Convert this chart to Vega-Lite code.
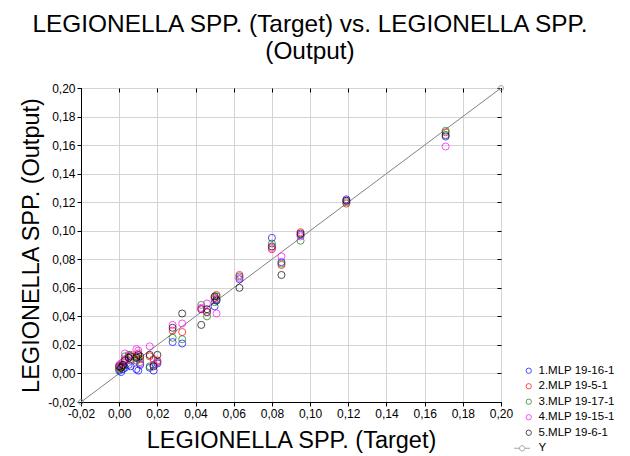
{
  "$schema": "https://vega.github.io/schema/vega-lite/v6.json",
  "autosize": "none",
  "width": 420,
  "height": 314,
  "padding": {"left": 81, "top": 88, "right": 129, "bottom": 54},
  "background": "white",
  "config": {
    "font": "Liberation Sans",
    "view": {"stroke": "black", "strokeWidth": 1},
    "axis": {"gridColor": "#d4d4d4", "gridWidth": 1, "domainColor": "black", "tickColor": "black", "labelColor": "black", "titleColor": "black", "labelFont": "Liberation Sans", "titleFont": "Liberation Sans", "titleFontWeight": "normal", "labelFontSize": 12, "titleFontSize": 23.5, "labelOverlap": false, "labelFlush": false}
  },
  "title": {"text": ["LEGIONELLA SPP. (Target) vs. LEGIONELLA SPP.", "(Output)"], "fontSize": 24.4, "fontWeight": "normal", "font": "Liberation Sans", "color": "black", "anchor": "middle", "dx": 19, "lineHeight": 27, "offset": 18},
  "datasets": {
    "pts": [
      {"target": 0.000, "output": 0.002, "model": "1.MLP 19-16-1"},
      {"target": 0.001, "output": 0.001, "model": "1.MLP 19-16-1"},
      {"target": 0.002, "output": 0.003, "model": "1.MLP 19-16-1"},
      {"target": 0.003, "output": 0.004, "model": "1.MLP 19-16-1"},
      {"target": 0.005, "output": 0.006, "model": "1.MLP 19-16-1"},
      {"target": 0.006, "output": 0.005, "model": "1.MLP 19-16-1"},
      {"target": 0.009, "output": 0.003, "model": "1.MLP 19-16-1"},
      {"target": 0.010, "output": 0.002, "model": "1.MLP 19-16-1"},
      {"target": 0.011, "output": 0.006, "model": "1.MLP 19-16-1"},
      {"target": 0.016, "output": 0.004, "model": "1.MLP 19-16-1"},
      {"target": 0.018, "output": 0.002, "model": "1.MLP 19-16-1"},
      {"target": 0.020, "output": 0.007, "model": "1.MLP 19-16-1"},
      {"target": 0.028, "output": 0.022, "model": "1.MLP 19-16-1"},
      {"target": 0.033, "output": 0.021, "model": "1.MLP 19-16-1"},
      {"target": 0.043, "output": 0.045, "model": "1.MLP 19-16-1"},
      {"target": 0.046, "output": 0.043, "model": "1.MLP 19-16-1"},
      {"target": 0.050, "output": 0.047, "model": "1.MLP 19-16-1"},
      {"target": 0.051, "output": 0.052, "model": "1.MLP 19-16-1"},
      {"target": 0.063, "output": 0.066, "model": "1.MLP 19-16-1"},
      {"target": 0.080, "output": 0.095, "model": "1.MLP 19-16-1"},
      {"target": 0.085, "output": 0.078, "model": "1.MLP 19-16-1"},
      {"target": 0.095, "output": 0.097, "model": "1.MLP 19-16-1"},
      {"target": 0.119, "output": 0.122, "model": "1.MLP 19-16-1"},
      {"target": 0.171, "output": 0.166, "model": "1.MLP 19-16-1"},

      {"target": 0.000, "output": 0.004, "model": "2.MLP 19-5-1"},
      {"target": 0.001, "output": 0.005, "model": "2.MLP 19-5-1"},
      {"target": 0.002, "output": 0.006, "model": "2.MLP 19-5-1"},
      {"target": 0.003, "output": 0.010, "model": "2.MLP 19-5-1"},
      {"target": 0.005, "output": 0.011, "model": "2.MLP 19-5-1"},
      {"target": 0.006, "output": 0.013, "model": "2.MLP 19-5-1"},
      {"target": 0.009, "output": 0.012, "model": "2.MLP 19-5-1"},
      {"target": 0.010, "output": 0.014, "model": "2.MLP 19-5-1"},
      {"target": 0.011, "output": 0.010, "model": "2.MLP 19-5-1"},
      {"target": 0.016, "output": 0.012, "model": "2.MLP 19-5-1"},
      {"target": 0.018, "output": 0.010, "model": "2.MLP 19-5-1"},
      {"target": 0.020, "output": 0.009, "model": "2.MLP 19-5-1"},
      {"target": 0.028, "output": 0.030, "model": "2.MLP 19-5-1"},
      {"target": 0.033, "output": 0.029, "model": "2.MLP 19-5-1"},
      {"target": 0.043, "output": 0.045, "model": "2.MLP 19-5-1"},
      {"target": 0.046, "output": 0.043, "model": "2.MLP 19-5-1"},
      {"target": 0.050, "output": 0.053, "model": "2.MLP 19-5-1"},
      {"target": 0.051, "output": 0.055, "model": "2.MLP 19-5-1"},
      {"target": 0.063, "output": 0.069, "model": "2.MLP 19-5-1"},
      {"target": 0.080, "output": 0.087, "model": "2.MLP 19-5-1"},
      {"target": 0.085, "output": 0.076, "model": "2.MLP 19-5-1"},
      {"target": 0.095, "output": 0.099, "model": "2.MLP 19-5-1"},
      {"target": 0.119, "output": 0.119, "model": "2.MLP 19-5-1"},
      {"target": 0.171, "output": 0.169, "model": "2.MLP 19-5-1"},

      {"target": 0.000, "output": 0.003, "model": "3.MLP 19-17-1"},
      {"target": 0.001, "output": 0.004, "model": "3.MLP 19-17-1"},
      {"target": 0.002, "output": 0.005, "model": "3.MLP 19-17-1"},
      {"target": 0.003, "output": 0.012, "model": "3.MLP 19-17-1"},
      {"target": 0.005, "output": 0.013, "model": "3.MLP 19-17-1"},
      {"target": 0.006, "output": 0.010, "model": "3.MLP 19-17-1"},
      {"target": 0.009, "output": 0.009, "model": "3.MLP 19-17-1"},
      {"target": 0.010, "output": 0.011, "model": "3.MLP 19-17-1"},
      {"target": 0.011, "output": 0.008, "model": "3.MLP 19-17-1"},
      {"target": 0.016, "output": 0.005, "model": "3.MLP 19-17-1"},
      {"target": 0.018, "output": 0.006, "model": "3.MLP 19-17-1"},
      {"target": 0.020, "output": 0.008, "model": "3.MLP 19-17-1"},
      {"target": 0.028, "output": 0.025, "model": "3.MLP 19-17-1"},
      {"target": 0.033, "output": 0.024, "model": "3.MLP 19-17-1"},
      {"target": 0.043, "output": 0.048, "model": "3.MLP 19-17-1"},
      {"target": 0.046, "output": 0.040, "model": "3.MLP 19-17-1"},
      {"target": 0.050, "output": 0.050, "model": "3.MLP 19-17-1"},
      {"target": 0.051, "output": 0.054, "model": "3.MLP 19-17-1"},
      {"target": 0.063, "output": 0.068, "model": "3.MLP 19-17-1"},
      {"target": 0.080, "output": 0.091, "model": "3.MLP 19-17-1"},
      {"target": 0.085, "output": 0.077, "model": "3.MLP 19-17-1"},
      {"target": 0.095, "output": 0.093, "model": "3.MLP 19-17-1"},
      {"target": 0.119, "output": 0.120, "model": "3.MLP 19-17-1"},
      {"target": 0.171, "output": 0.170, "model": "3.MLP 19-17-1"},

      {"target": 0.000, "output": 0.006, "model": "4.MLP 19-15-1"},
      {"target": 0.001, "output": 0.007, "model": "4.MLP 19-15-1"},
      {"target": 0.002, "output": 0.008, "model": "4.MLP 19-15-1"},
      {"target": 0.003, "output": 0.014, "model": "4.MLP 19-15-1"},
      {"target": 0.005, "output": 0.012, "model": "4.MLP 19-15-1"},
      {"target": 0.006, "output": 0.009, "model": "4.MLP 19-15-1"},
      {"target": 0.009, "output": 0.017, "model": "4.MLP 19-15-1"},
      {"target": 0.010, "output": 0.016, "model": "4.MLP 19-15-1"},
      {"target": 0.011, "output": 0.007, "model": "4.MLP 19-15-1"},
      {"target": 0.016, "output": 0.019, "model": "4.MLP 19-15-1"},
      {"target": 0.018, "output": 0.006, "model": "4.MLP 19-15-1"},
      {"target": 0.020, "output": 0.008, "model": "4.MLP 19-15-1"},
      {"target": 0.028, "output": 0.034, "model": "4.MLP 19-15-1"},
      {"target": 0.033, "output": 0.035, "model": "4.MLP 19-15-1"},
      {"target": 0.043, "output": 0.046, "model": "4.MLP 19-15-1"},
      {"target": 0.046, "output": 0.049, "model": "4.MLP 19-15-1"},
      {"target": 0.050, "output": 0.052, "model": "4.MLP 19-15-1"},
      {"target": 0.051, "output": 0.042, "model": "4.MLP 19-15-1"},
      {"target": 0.063, "output": 0.067, "model": "4.MLP 19-15-1"},
      {"target": 0.080, "output": 0.088, "model": "4.MLP 19-15-1"},
      {"target": 0.085, "output": 0.082, "model": "4.MLP 19-15-1"},
      {"target": 0.095, "output": 0.096, "model": "4.MLP 19-15-1"},
      {"target": 0.119, "output": 0.121, "model": "4.MLP 19-15-1"},
      {"target": 0.171, "output": 0.159, "model": "4.MLP 19-15-1"},

      {"target": 0.000, "output": 0.005, "model": "5.MLP 19-6-1"},
      {"target": 0.001, "output": 0.004, "model": "5.MLP 19-6-1"},
      {"target": 0.002, "output": 0.006, "model": "5.MLP 19-6-1"},
      {"target": 0.003, "output": 0.009, "model": "5.MLP 19-6-1"},
      {"target": 0.005, "output": 0.011, "model": "5.MLP 19-6-1"},
      {"target": 0.006, "output": 0.012, "model": "5.MLP 19-6-1"},
      {"target": 0.009, "output": 0.011, "model": "5.MLP 19-6-1"},
      {"target": 0.010, "output": 0.013, "model": "5.MLP 19-6-1"},
      {"target": 0.011, "output": 0.012, "model": "5.MLP 19-6-1"},
      {"target": 0.016, "output": 0.013, "model": "5.MLP 19-6-1"},
      {"target": 0.018, "output": 0.005, "model": "5.MLP 19-6-1"},
      {"target": 0.020, "output": 0.013, "model": "5.MLP 19-6-1"},
      {"target": 0.028, "output": 0.032, "model": "5.MLP 19-6-1"},
      {"target": 0.033, "output": 0.042, "model": "5.MLP 19-6-1"},
      {"target": 0.043, "output": 0.034, "model": "5.MLP 19-6-1"},
      {"target": 0.046, "output": 0.045, "model": "5.MLP 19-6-1"},
      {"target": 0.050, "output": 0.054, "model": "5.MLP 19-6-1"},
      {"target": 0.051, "output": 0.051, "model": "5.MLP 19-6-1"},
      {"target": 0.063, "output": 0.060, "model": "5.MLP 19-6-1"},
      {"target": 0.080, "output": 0.089, "model": "5.MLP 19-6-1"},
      {"target": 0.085, "output": 0.069, "model": "5.MLP 19-6-1"},
      {"target": 0.095, "output": 0.098, "model": "5.MLP 19-6-1"},
      {"target": 0.119, "output": 0.121, "model": "5.MLP 19-6-1"},
      {"target": 0.171, "output": 0.167, "model": "5.MLP 19-6-1"}
    ],
    "yline": [
      {"target": -0.02, "output": -0.02},
      {"target": 0.2, "output": 0.2}
    ]
  },
  "resolve": {"axis": {"x": "independent", "y": "independent"}},
  "layer": [
    {
      "data": {"name": "yline"},
      "mark": {"type": "line", "color": "#808080", "strokeWidth": 1, "clip": false},
      "encoding": {
        "x": {"field": "target", "type": "quantitative", "scale": {"domain": [-0.02, 0.2], "nice": false, "zero": false},
          "axis": {"orient": "bottom", "title": "LEGIONELLA SPP. (Target)", "values": [-0.02, 0, 0.02, 0.04, 0.06, 0.08, 0.1, 0.12, 0.14, 0.16, 0.18, 0.2], "labelExpr": "replace(replace(format(datum.value, '.2f'), '.', ','), '\u2212', '-')", "tickSize": 4, "labelPadding": 2, "titlePadding": 9}},
        "y": {"field": "output", "type": "quantitative", "scale": {"domain": [-0.02, 0.2], "nice": false, "zero": false},
          "axis": {"orient": "left", "title": "LEGIONELLA SPP. (Output)", "values": [-0.02, 0, 0.02, 0.04, 0.06, 0.08, 0.1, 0.12, 0.14, 0.16, 0.18, 0.2], "labelExpr": "replace(replace(format(datum.value, '.2f'), '.', ','), '\u2212', '-')", "tickSize": 4, "labelPadding": 2, "titlePadding": 4}}
      }
    },
    {
      "data": {"name": "yline"},
      "mark": {"type": "point", "shape": "circle", "filled": false, "color": "#808080", "size": 25, "strokeWidth": 1, "clip": false},
      "encoding": {
        "x": {"field": "target", "type": "quantitative", "axis": {"orient": "top", "title": null, "labels": false, "grid": false, "domain": false, "tickSize": -4, "values": [-0.02, 0, 0.02, 0.04, 0.06, 0.08, 0.1, 0.12, 0.14, 0.16, 0.18, 0.2]}},
        "y": {"field": "output", "type": "quantitative", "axis": {"orient": "right", "title": null, "labels": false, "grid": false, "domain": false, "tickSize": -4, "values": [-0.02, 0, 0.02, 0.04, 0.06, 0.08, 0.1, 0.12, 0.14, 0.16, 0.18, 0.2]}}
      }
    },
    {
      "data": {"name": "pts"},
      "mark": {"type": "point", "filled": false, "size": 50, "strokeWidth": 1},
      "encoding": {
        "x": {"field": "target", "type": "quantitative", "axis": null},
        "y": {"field": "output", "type": "quantitative", "axis": null},
        "color": {"field": "model", "type": "nominal",
          "scale": {"domain": ["1.MLP 19-16-1", "2.MLP 19-5-1", "3.MLP 19-17-1", "4.MLP 19-15-1", "5.MLP 19-6-1", "Y"], "range": ["#0000ff", "#ff0000", "#008000", "#ff00ff", "#000000", "#808080"]},
          "legend": {"title": null, "orient": "none", "legendX": 442, "legendY": 277, "labelFontSize": 11.5, "labelFont": "Liberation Sans", "labelColor": "black", "symbolSize": 28, "symbolStrokeWidth": 1, "rowPadding": 2.5, "labelOffset": 4, "padding": 0}},
        "shape": {"field": "model", "type": "nominal",
          "scale": {"domain": ["1.MLP 19-16-1", "2.MLP 19-5-1", "3.MLP 19-17-1", "4.MLP 19-15-1", "5.MLP 19-6-1", "Y"], "range": ["circle", "circle", "circle", "circle", "circle", "M-5.5,0L-3.5,0M-1.5,0L0.5,0M-1.5,0A1,1,0,1,1,-3.5,0A1,1,0,1,1,-1.5,0"]},
          "legend": {"title": null, "orient": "none", "legendX": 442, "legendY": 277}}
      }
    }
  ]
}
